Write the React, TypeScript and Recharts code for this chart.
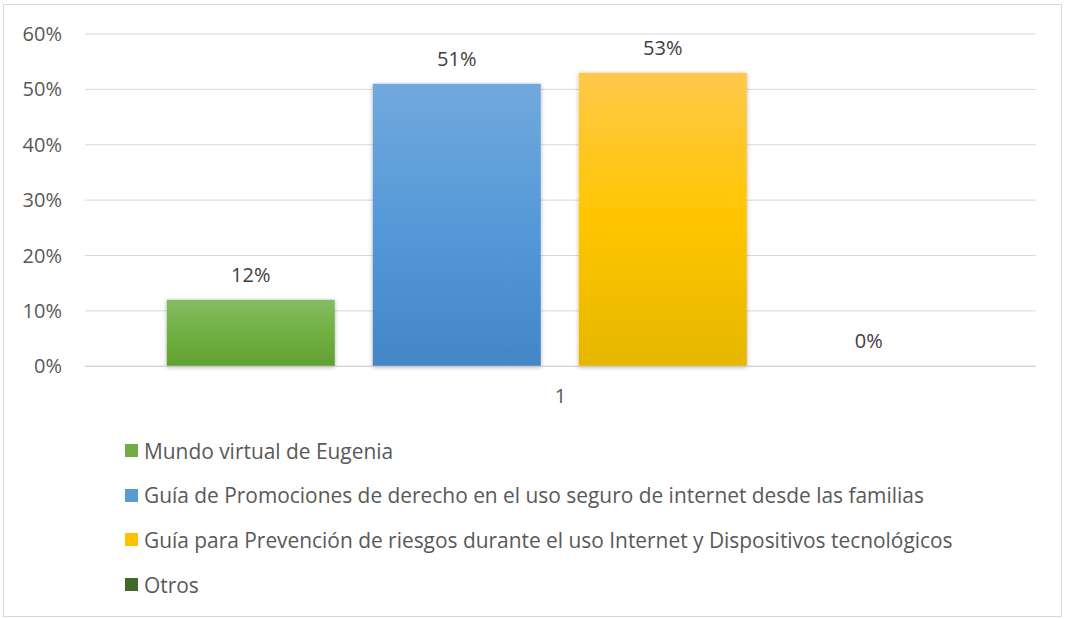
import {
  Bar,
  BarChart,
  CartesianGrid,
  LabelList,
  Legend,
  Rectangle,
  XAxis,
  YAxis,
} from "recharts";

const categories = ["1"];
const seriesNames = [
  "Mundo virtual de Eugenia",
  "Guía de Promociones de derecho en el uso seguro de internet desde las familias",
  "Guía para Prevención de riesgos durante el uso Internet y Dispositivos tecnológicos",
  "Otros",
];
const mundoVirtual = [12];
const guiaPromociones = [51];
const guiaPrevencion = [53];
const otros = [0];
const yTicks = [0, 10, 20, 30, 40, 50, 60];

const seriesKeys = ["mundo", "promo", "prev", "otros"];
const swatch: Record<string, string> = {
  mundo: "#70ad47",
  promo: "#5b9bd5",
  prev: "#ffc000",
  otros: "#43682b",
};

const data = categories.map((c, i) => ({
  name: c,
  mundo: mundoVirtual[i],
  promo: guiaPromociones[i],
  prev: guiaPrevencion[i],
  otros: otros[i],
}));

const font = "'Open Sans', sans-serif";

// legend keeps the series order (recharts sorts by name otherwise)
const LegendBox = (props: any) => {
  const items = [...(props.payload || [])].sort(
    (a: any, b: any) => seriesKeys.indexOf(a.dataKey) - seriesKeys.indexOf(b.dataKey)
  );
  return (
    <div style={{ fontFamily: font }}>
      {items.map((it: any) => (
        <div
          key={it.dataKey}
          style={{
            height: 44.7,
            display: "flex",
            alignItems: "center",
            fontSize: 20.9,
            color: "#595959",
            whiteSpace: "nowrap",
          }}
        >
          <span
            style={{
              width: 13,
              height: 13,
              background: swatch[it.dataKey],
              marginRight: 6,
              display: "inline-block",
            }}
          />
          {it.value}
        </div>
      ))}
    </div>
  );
};

const shadowShape = (p: any) => <Rectangle {...p} filter="url(#barShadow)" />;

export default function App() {
  return (
    <div
      style={{
        position: "absolute",
        left: 3,
        top: 4,
        width: 1057,
        height: 611,
        border: "1px solid #d9d9d9",
        background: "#fff",
      }}
    >
      <BarChart
        width={1057}
        height={611}
        data={data}
        margin={{ top: 29, right: 25, left: 0, bottom: 9 }}
        barCategoryGap="8.6%"
        barGap={38}
      >
        <defs>
          <linearGradient id="gMundo" x1="0" y1="0" x2="0" y2="1">
            <stop offset="0%" stopColor="#85bb62" />
            <stop offset="50%" stopColor="#70b043" />
            <stop offset="100%" stopColor="#62a032" />
          </linearGradient>
          <linearGradient id="gPromo" x1="0" y1="0" x2="0" y2="1">
            <stop offset="0%" stopColor="#71a9dd" />
            <stop offset="50%" stopColor="#5599d8" />
            <stop offset="100%" stopColor="#4386c6" />
          </linearGradient>
          <linearGradient id="gPrev" x1="0" y1="0" x2="0" y2="1">
            <stop offset="0%" stopColor="#ffc84b" />
            <stop offset="50%" stopColor="#ffc600" />
            <stop offset="100%" stopColor="#e5b700" />
          </linearGradient>
          <linearGradient id="gOtros" x1="0" y1="0" x2="0" y2="1">
            <stop offset="0%" stopColor="#4e7a32" />
            <stop offset="100%" stopColor="#3b5c25" />
          </linearGradient>
          <filter id="barShadow" x="-10%" y="-10%" width="120%" height="120%">
            <feDropShadow dx="0" dy="1" stdDeviation="2" floodColor="#000" floodOpacity="0.3" />
          </filter>
        </defs>
        <CartesianGrid vertical={false} stroke="#d9d9d9" strokeWidth={1} />
        <XAxis
          dataKey="name"
          stroke="#d0d0d0"
          tickLine={false}
          tickSize={0}
          tickMargin={23}
          height={62}
          tick={{ fill: "#595959", fontSize: 20, fontFamily: font }}
        />
        <YAxis
          domain={[0, 60]}
          ticks={yTicks}
          tickFormatter={(v) => `${v}%`}
          axisLine={false}
          tickLine={false}
          tickSize={0}
          tickMargin={23}
          width={81}
          tick={{ fill: "#595959", fontSize: 20, fontFamily: font }}
        />
        <Legend
          layout="vertical"
          verticalAlign="bottom"
          align="center"
          wrapperStyle={{ left: 121 }}
          content={<LegendBox />}
        />
        {seriesKeys.map((k, i) => (
          <Bar
            key={k}
            dataKey={k}
            name={seriesNames[i]}
            fill={`url(#g${["Mundo", "Promo", "Prev", "Otros"][i]})`}
            shape={shadowShape}
            isAnimationActive={false}
          >
            <LabelList
              dataKey={k}
              position="top"
              offset={18}
              formatter={(v: any) => `${v}%`}
              style={{ fill: "#404040", fontSize: 20, fontFamily: font }}
            />
          </Bar>
        ))}
      </BarChart>
    </div>
  );
}
